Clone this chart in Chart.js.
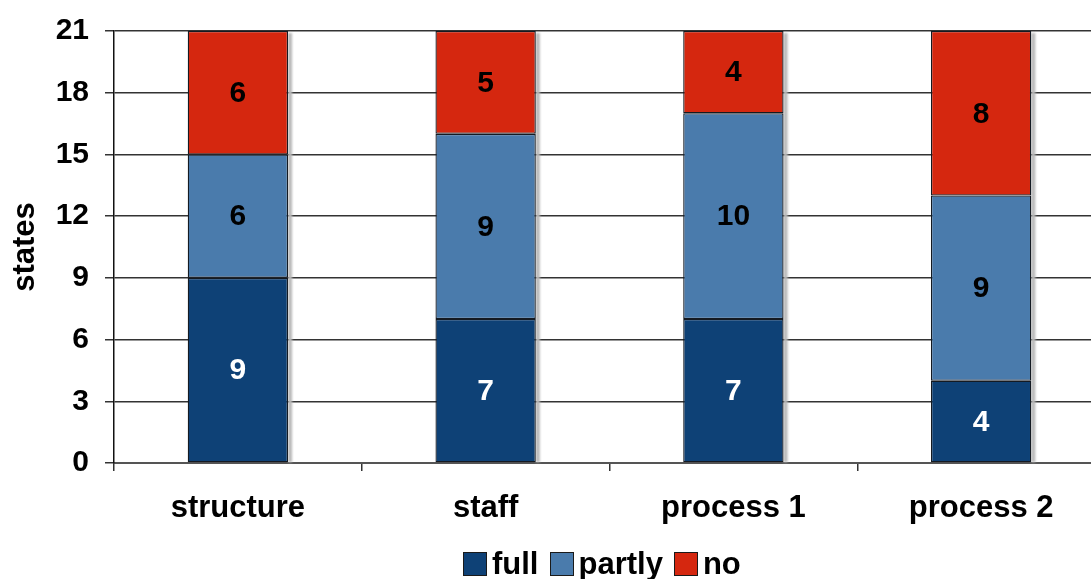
<!DOCTYPE html>
<html>
<head>
<meta charset="utf-8">
<script src="https://cdn.jsdelivr.net/npm/chart.js@4.4.1/dist/chart.umd.min.js"></script>
<style>
  html, body { margin: 0; padding: 0; background: #ffffff; overflow: hidden; }
  #wrap { position: relative; width: 1110px; height: 579px; }
  #legend {
    position: absolute; left: 463px; top: 546px;
    display: flex; align-items: center;
    font-family: "Liberation Sans", Arial, sans-serif; font-weight: bold; font-size: 31px;
    color: #000;
  }
  #legend .item { display: flex; align-items: center; margin-right: 11px; }
  #legend .box { width: 24px; height: 24px; box-sizing: border-box; border: 1px solid #1a1a1a; margin-right: 5px; }
</style>
</head>
<body>
<div id="wrap">
  <canvas id="c"></canvas>
  <div id="legend"></div>
</div>
<script>
// Implementation status of each area across the states
const categories = ["structure", "staff", "process 1", "process 2"];
const fullValues = [9, 7, 7, 4];
const partlyValues = [6, 9, 10, 9];
const noValues = [6, 5, 4, 8];
const yTicks = [0, 3, 6, 9, 12, 15, 18, 21];

const seriesNames = ["full", "partly", "no"];
const seriesColors = ["#0e4176", "#4a7bac", "#d5270f"];
const labelColors = ["#ffffff", "#000000", "#000000"];

const FONT = '"Liberation Sans", Arial, sans-serif';

// Grey drop shadow along the right side of each stacked column
const barShadow = {
  id: 'barShadow',
  beforeDatasetsDraw(chart) {
    const ctx = chart.ctx;
    const metas = chart.data.datasets.map((_, i) => chart.getDatasetMeta(i));
    const n = chart.data.labels.length;
    ctx.save();
    ctx.filter = 'blur(0.8px)';
    ctx.fillStyle = '#b8b8b8';
    for (let j = 0; j < n; j++) {
      const bars = metas.map(m => m.data[j]);
      const top = Math.min(...bars.map(b => b.y));
      const base = Math.max(...bars.map(b => b.base));
      const b0 = bars[0];
      const right = b0.x + b0.width / 2;
      ctx.fillRect(right, top + 2, 4, base - top - 2);
    }
    ctx.restore();
  }
};

// Value labels centred in each stacked segment
const segmentLabels = {
  id: 'segmentLabels',
  afterDatasetsDraw(chart) {
    const ctx = chart.ctx;
    ctx.save();
    ctx.font = 'bold 30px ' + FONT;
    ctx.textAlign = 'center';
    ctx.textBaseline = 'middle';
    chart.data.datasets.forEach((ds, i) => {
      const meta = chart.getDatasetMeta(i);
      meta.data.forEach((bar, j) => {
        const v = ds.data[j];
        if (!v) return;
        ctx.fillStyle = labelColors[i];
        ctx.fillText(String(v), bar.x, (bar.y + bar.base) / 2 + 1);
      });
    });
    ctx.restore();
  }
};

const seriesData = [fullValues, partlyValues, noValues];
const datasets = seriesNames.map((name, i) => ({
  label: name,
  data: seriesData[i],
  backgroundColor: seriesColors[i],
  borderColor: '#141a22',
  borderWidth: 1.3,
  borderSkipped: false,
  categoryPercentage: 1.0,
  barPercentage: 0.405
}));

const legendEl = document.getElementById('legend');
seriesNames.forEach((name, i) => {
  const item = document.createElement('div');
  item.className = 'item';
  const box = document.createElement('div');
  box.className = 'box';
  box.style.background = seriesColors[i];
  const txt = document.createElement('span');
  txt.textContent = name;
  item.appendChild(box);
  item.appendChild(txt);
  legendEl.appendChild(item);
});

new Chart(document.getElementById('c'), {
  type: 'bar',
  data: { labels: categories, datasets },
  plugins: [barShadow, segmentLabels],
  options: {
    responsive: true,
    maintainAspectRatio: false,
    animation: false,
    layout: { padding: { top: 31, right: 5, left: 0, bottom: 0 } },
    plugins: {
      legend: { display: false },
      tooltip: { enabled: false }
    },
    scales: {
      x: {
        stacked: true,
        offset: true,
        grid: {
          offset: true,
          drawOnChartArea: false,
          drawTicks: true,
          tickLength: 8,
          color: '#333333',
          lineWidth: 1.5
        },
        border: { display: true, color: '#555555', width: 2 },
        ticks: {
          color: '#000000',
          padding: 19,
          font: { family: FONT, weight: 'bold', size: 31 }
        },
        afterFit(scale) { scale.height = 116; scale.paddingLeft = 0; scale.paddingRight = 0; }
      },
      y: {
        stacked: true,
        min: 0,
        max: 21,
        afterBuildTicks(scale) { scale.ticks = yTicks.map(v => ({ value: v })); },
        grid: {
          color: '#333333',
          lineWidth: 1.5,
          drawTicks: true,
          tickLength: 9
        },
        border: { display: true, color: '#111111', width: 1.5 },
        ticks: {
          color: '#000000',
          padding: 16,
          font: { family: FONT, weight: 'bold', size: 30 }
        },
        title: {
          display: true,
          text: 'states',
          color: '#000000',
          padding: { top: 7, bottom: 0 },
          font: { family: FONT, weight: 'bold', size: 31 }
        },
        afterFit(scale) { scale.width = 114; scale.paddingTop = 0; scale.paddingBottom = 0; }
      }
    }
  }
});
</script>
</body>
</html>
